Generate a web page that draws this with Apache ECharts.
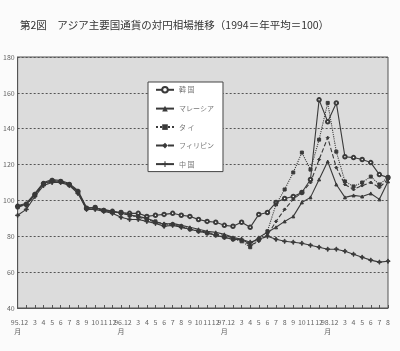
<!DOCTYPE html>
<html>
<head>
<meta charset="utf-8">
<script src="https://cdn.jsdelivr.net/npm/echarts@6/dist/echarts.min.js"></script>
<style>
html,body{margin:0;padding:0;background:#fbfbfb;}
#c{width:400px;height:351px;}
</style>
</head>
<body>
<div id="c"></div>
<script>
const titleText = '第2図　アジア主要国通貨の対円相場推移（1994＝年平均＝100）';
const xLabels = ['95.1\n月','2','3','4','5','6','7','8','9','10','11','12',
  '96.1\n月','2','3','4','5','6','7','8','9','10','11','12',
  '97.1\n月','2','3','4','5','6','7','8','9','10','11','12',
  '98.1\n月','2','3','4','5','6','7','8'];
const yTicks = {min:40, max:180, interval:20};
const seriesNames = ['韓 国','マレーシア','タ イ','フィリピン','中 国'];

const korea = [96.7,97.8,103.3,109.4,111.1,110.6,108.9,105.0,95.6,96.1,94.4,93.9,
  93.3,92.8,92.8,91.1,91.7,92.2,92.8,91.7,91.1,89.4,88.3,87.8,
  86.1,85.6,87.8,85.0,92.2,93.3,98.9,101.1,102.2,104.4,111.7,156.1,
  143.9,154.4,124.4,123.9,122.8,121.1,114.4,112.8];
const malaysia = [97.2,98.3,103.9,110.0,111.7,111.1,109.4,105.6,96.1,95.6,95.0,93.9,
  92.8,91.7,91.1,90.0,88.3,86.7,87.2,86.1,85.0,83.9,82.8,82.2,
  81.1,79.4,78.3,75.6,79.4,82.2,85.0,88.3,91.1,98.9,101.7,111.7,
  121.7,108.9,101.7,102.8,102.2,103.9,100.6,110.6];
const thai = [96.1,97.8,102.8,109.4,111.1,110.6,108.9,104.4,95.6,96.1,94.4,93.3,
  93.3,91.7,91.1,89.4,88.3,86.1,86.7,85.6,83.9,82.8,81.7,80.6,
  79.4,78.3,77.2,73.9,78.3,82.8,97.8,106.1,115.6,126.7,117.2,133.9,
  154.4,127.2,110.6,107.8,110.0,113.3,108.9,112.8];
const philippines = [96.7,97.2,103.3,108.9,110.6,110.0,108.3,105.0,95.0,95.6,94.4,93.9,
  92.8,92.2,90.6,89.4,87.8,87.2,86.7,85.0,83.9,83.3,82.2,81.1,
  80.6,78.9,77.8,75.0,77.2,80.6,88.3,95.0,100.6,104.4,110.0,122.8,
  135.0,118.3,108.9,106.1,108.3,110.0,107.2,111.7];
const china = [91.7,95.0,102.2,108.3,110.0,110.0,108.3,103.9,95.0,95.0,93.9,92.8,
  90.6,89.4,89.4,88.3,87.2,85.6,86.1,85.0,83.9,82.8,81.7,80.6,
  79.4,78.3,78.3,76.7,78.3,80.0,78.3,77.2,76.7,76.1,75.0,73.9,
  72.8,72.8,71.7,70.0,68.3,66.7,65.6,66.1];

const dataSets = [korea, malaysia, thai, philippines, china];
const lineColor = '#3a3a3a';
const styles = [
  {type:'solid', symbol:'emptyCircle', size:3.5},
  {type:'solid', symbol:'triangle', size:3},
  {type:'dotted', symbol:'rect', size:3},
  {type:'dashed', symbol:'diamond', size:3},
  {type:'solid', symbol:'path://M4,0H6V4H10V6H6V10H4V6H0V4H4Z', size:4}
];

const chart = echarts.init(document.getElementById('c'), null, {renderer:'canvas'});
chart.setOption({
  animation:false,
  backgroundColor:'#fbfbfb',
  textStyle:{fontFamily:'"Noto Sans CJK JP", "Noto Sans", sans-serif'},
  title:{
    text:titleText, left:15, top:15,
    textStyle:{fontSize:10.5, fontWeight:'normal', color:'#333', fontFamily:'"Noto Sans CJK JP", sans-serif'}
  },
  grid:{left:17, right:12, top:57, bottom:43, show:true, backgroundColor:'#dcdcdc', borderColor:'#555', borderWidth:1},
  legend:{
    orient:'vertical', left:148, top:82,
    data:seriesNames,
    itemWidth:18, itemHeight:7, itemGap:11.5,
    padding:[4,9,4,7],
    backgroundColor:'#ffffff', borderColor:'#444', borderWidth:1,
    textStyle:{fontSize:7, color:'#777'}
  },
  xAxis:{
    type:'category', data:xLabels, boundaryGap:false,
    axisLine:{lineStyle:{color:'#555'}},
    axisTick:{inside:true, length:3, interval:0, lineStyle:{color:'#555'}},
    axisLabel:{interval:0, fontSize:7, color:'#666', margin:10, lineHeight:9},
    splitLine:{show:false}
  },
  yAxis:{
    type:'value', min:yTicks.min, max:yTicks.max, interval:yTicks.interval,
    axisLine:{show:true, lineStyle:{color:'#555'}},
    axisTick:{show:false},
    axisLabel:{fontSize:7, color:'#666', margin:3},
    splitLine:{lineStyle:{type:[2,2], color:'#555', width:1}}
  },
  series: seriesNames.map((n,i)=>({
    name:n, type:'line', data:dataSets[i],
    symbol:styles[i].symbol, symbolSize:styles[i].size, showSymbol:true,
    lineStyle:{color:lineColor, width:1.1, type:styles[i].type},
    itemStyle:{color:lineColor, borderColor:lineColor},
    z: 2 + i
  }))
});
</script>
</body>
</html>
